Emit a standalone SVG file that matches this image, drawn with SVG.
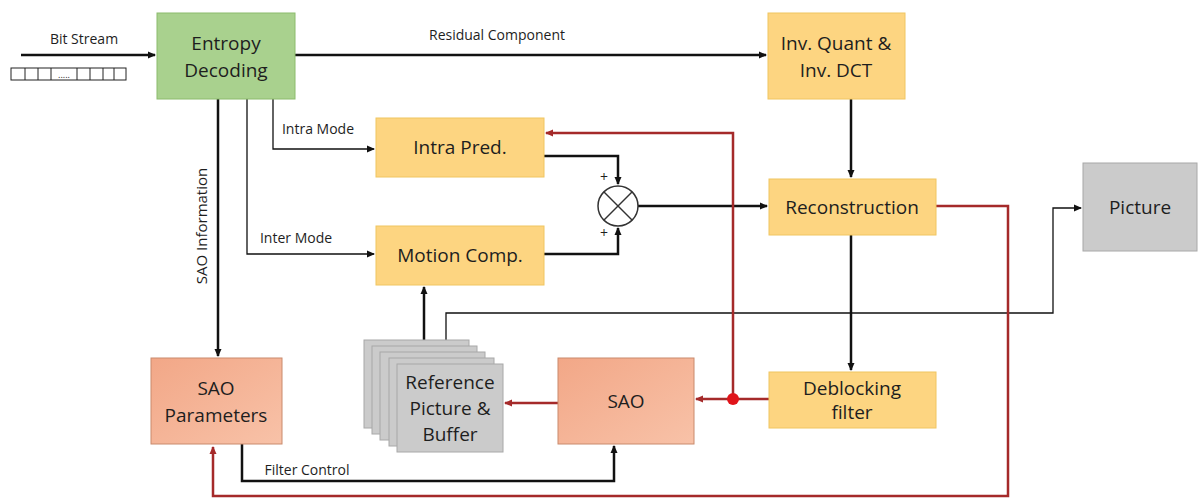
<svg xmlns="http://www.w3.org/2000/svg" width="1202" height="501" viewBox="0 0 1202 501">
<defs>
<style>
.t{font-family:"Open Sans","Liberation Sans",sans-serif;fill:#1e1e1e;text-anchor:middle}
.big{font-size:19px}
.sm{font-size:14px}
.yl{fill:#fdd581;stroke:#f0c560;stroke-width:1}
.gr{fill:#a9d18e;stroke:#8cbb6c;stroke-width:1}
.sa{fill:url(#sg);stroke:#c98a6c;stroke-width:1}
.gy{fill:#cbcbcb;stroke:#a8a8a8;stroke-width:1}
.bl{fill:none;stroke:#111;stroke-width:2.5}
.th{fill:none;stroke:#111;stroke-width:1.3}
.rd{fill:none;stroke:#a52a2a;stroke-width:2.5}
</style>
<linearGradient id="sg" x1="0" y1="0" x2="1" y2="1">
<stop offset="0" stop-color="#f2a787"/>
<stop offset="1" stop-color="#f8c2a8"/>
</linearGradient>
<marker id="ab" markerWidth="8" markerHeight="8" refX="7" refY="4" orient="auto" markerUnits="userSpaceOnUse"><path d="M0,0.5 L8,4 L0,7.5 Z" fill="#111"/></marker>
<marker id="ar" markerWidth="8" markerHeight="8" refX="7" refY="4" orient="auto" markerUnits="userSpaceOnUse"><path d="M0,0.5 L8,4 L0,7.5 Z" fill="#a52a2a"/></marker>
</defs>
<rect width="1202" height="501" fill="#fff"/>

<g id="connectors">
<line class="bl" x1="21" y1="55" x2="155" y2="55" marker-end="url(#ab)"/>
<line class="bl" x1="295" y1="55" x2="766" y2="55" marker-end="url(#ab)"/>
<polyline class="th" points="273,99 273,149 374,149" marker-end="url(#ab)"/>
<polyline class="th" points="247,99 247,254 374,254" marker-end="url(#ab)"/>
<line class="bl" x1="218" y1="99" x2="218" y2="356" marker-end="url(#ab)"/>
<polyline class="bl" points="544,156 618,156 618,184" marker-end="url(#ab)"/>
<polyline class="bl" points="544,254 618,254 618,228" marker-end="url(#ab)"/>
<line class="bl" x1="638" y1="206" x2="767" y2="206" marker-end="url(#ab)"/>
<line class="bl" x1="851" y1="99" x2="851" y2="177" marker-end="url(#ab)"/>
<line class="bl" x1="851" y1="235" x2="851" y2="370" marker-end="url(#ab)"/>
<line class="bl" x1="424" y1="340" x2="424" y2="287" marker-end="url(#ab)"/>
<polyline class="th" points="446,340 446,313 1053,313 1053,208 1081,208" marker-end="url(#ab)"/>
<polyline class="bl" points="242,444 242,481 614,481 614,446" marker-end="url(#ab)"/>
<polyline class="rd" points="936,206 1008,206 1008,496 213,496 213,447" marker-end="url(#ar)"/>
<polyline class="rd" points="733,399 733,133 546,133" marker-end="url(#ar)"/>
<line class="rd" x1="769" y1="399" x2="696" y2="399" marker-end="url(#ar)"/>
<line class="rd" x1="558" y1="403" x2="505" y2="403" marker-end="url(#ar)"/>
<circle cx="733" cy="399" r="6" fill="#e0141a"/>
</g>

<g id="bitstream">
<text class="t sm" x="84" y="44">Bit Stream</text>
<g fill="none" stroke="#222" stroke-width="1">
<rect x="11" y="68" width="115" height="12"/>
<line x1="25" y1="68" x2="25" y2="80"/>
<line x1="38" y1="68" x2="38" y2="80"/>
<line x1="51" y1="68" x2="51" y2="80"/>
<line x1="77" y1="68" x2="77" y2="80"/>
<line x1="90" y1="68" x2="90" y2="80"/>
<line x1="103" y1="68" x2="103" y2="80"/>
<line x1="114" y1="68" x2="114" y2="80"/>
</g>
<text class="t" style="font-size:9px" x="64" y="78">.....</text>
</g>

<g id="entropy">
<rect class="gr" x="157" y="13" width="138" height="86"/>
<text class="t big" x="226" y="50">Entropy</text>
<text class="t big" x="226" y="77">Decoding</text>
</g>

<g id="invquant">
<rect class="yl" x="768" y="13" width="137" height="86"/>
<text class="t big" x="836" y="50">Inv. Quant &amp;</text>
<text class="t big" x="836" y="77">Inv. DCT</text>
</g>

<g id="intra">
<rect class="yl" x="376" y="118" width="168" height="59"/>
<text class="t big" x="460" y="154">Intra Pred.</text>
</g>

<g id="motion">
<rect class="yl" x="376" y="226" width="168" height="59"/>
<text class="t big" x="460" y="262">Motion Comp.</text>
</g>

<g id="sum">
<circle cx="618" cy="206" r="20" fill="#fff" stroke="#333" stroke-width="1.5"/>
<line x1="604" y1="192" x2="632" y2="220" stroke="#333" stroke-width="1.5"/>
<line x1="632" y1="192" x2="604" y2="220" stroke="#333" stroke-width="1.5"/>
<text class="t sm" x="604" y="182">+</text>
<text class="t sm" x="604" y="238">+</text>
</g>

<g id="reconstruction">
<rect class="yl" x="769" y="179" width="167" height="56"/>
<text class="t big" x="852" y="214">Reconstruction</text>
</g>

<g id="picture">
<rect class="gy" x="1083" y="163" width="114" height="88"/>
<text class="t big" x="1140" y="214">Picture</text>
</g>

<g id="deblocking">
<rect class="yl" x="769" y="372" width="167" height="56"/>
<text class="t big" x="852" y="395">Deblocking</text>
<text class="t big" x="852" y="419">filter</text>
</g>

<g id="sao">
<rect class="sa" x="558" y="358" width="136" height="86"/>
<text class="t big" x="626" y="408">SAO</text>
</g>

<g id="saoparams">
<rect class="sa" x="151" y="358" width="131" height="86"/>
<text class="t big" x="216" y="395">SAO</text>
<text class="t big" x="216" y="422">Parameters</text>
</g>

<g id="refbuffer">
<rect class="gy" x="364" y="340" width="105" height="88"/>
<rect class="gy" x="372" y="346" width="105" height="88"/>
<rect class="gy" x="380" y="352" width="105" height="88"/>
<rect class="gy" x="389" y="358" width="105" height="88"/>
<rect class="gy" x="397" y="364" width="106" height="88"/>
<text class="t big" x="450" y="389">Reference</text>
<text class="t big" x="450" y="415">Picture &amp;</text>
<text class="t big" x="450" y="441">Buffer</text>
</g>

<g id="labels">
<text class="t sm" x="497" y="40">Residual Component</text>
<text class="t sm" x="318" y="134">Intra Mode</text>
<text class="t sm" x="296" y="243">Inter Mode</text>
<text class="t sm" x="307" y="475">Filter Control</text>
<text class="t" style="font-size:15px" transform="translate(207,226) rotate(-90)">SAO Information</text>
</g>
</svg>
